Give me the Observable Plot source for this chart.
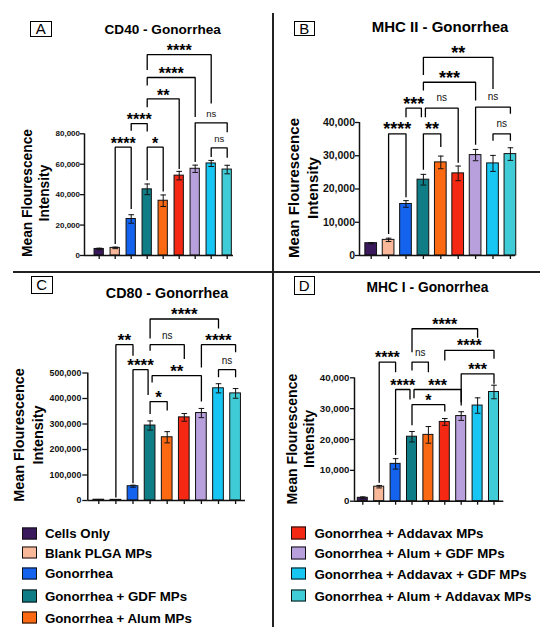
<!DOCTYPE html>
<html><head><meta charset="utf-8">
<script src="https://cdn.jsdelivr.net/npm/d3@7"></script>
<script src="https://cdn.jsdelivr.net/npm/@observablehq/plot@0.6"></script>
<style>
body{margin:0;background:#fff;}
#fig{position:relative;width:550px;height:635px;overflow:hidden;background:#fff;font-family:"Liberation Sans",Arial,sans-serif;color:#000;}
#fig svg{position:absolute;}
.title{position:absolute;font-weight:bold;white-space:nowrap;transform:translate(-50%,-50%);line-height:1;}
.letter{position:absolute;border:1.7px solid #000;box-sizing:border-box;display:flex;align-items:center;justify-content:center;line-height:1;}
.ylab{position:absolute;font-weight:bold;white-space:nowrap;text-align:center;transform:translate(-50%,-50%) rotate(-90deg);}
.leg{position:absolute;display:flex;align-items:center;font-weight:bold;font-size:13.3px;white-space:nowrap;transform:translateY(-50%);}
.sw{width:15px;height:12.5px;border:1.5px solid #111;box-sizing:border-box;flex:none;}
.line{position:absolute;background:#222;}
</style></head><body><div id="fig"></div>
<script>
// ---------- data ----------
const groups = ["Cells Only","Blank PLGA MPs","Gonorrhea","Gonorrhea + GDF MPs","Gonorrhea + Alum MPs",
  "Gonorrhea + Addavax MPs","Gonorrhea + Alum + GDF MPs","Gonorrhea + Addavax + GDF MPs","Gonorrhea + Alum + Addavax MPs"];
const groupColors = ["#3a1a5c","#f9b899","#1463ee","#0e7d86","#fb6a12","#f42813","#b7a0dc","#17c6f2","#40ccd6"];

const panelLetters = ["A","B","C","D"];
const panelTitles = ["CD40 - Gonorrhea","MHC II - Gonorrhea","CD80 - Gonorrhea","MHC I - Gonorrhea"];
const yLabelLines = ["Mean Flourescence","Intensity"];

// CD40
const cd40Mean = [4300, 5000, 24000, 43500, 36000, 52500, 57000, 60500, 56500];
const cd40Sd   = [500, 500, 2800, 3500, 3800, 2800, 2400, 2000, 2800];
const cd40Ticks = [0, 20000, 40000, 60000, 80000];
// [left bar, right bar, level, left leg end, right leg end, label]
const cd40Brackets = [
  [3,7,132000,122000,100000,"****"],
  [3,6,117000,111700,91000,"****"],
  [3,5,103000,97400,56800,"**"],
  [2,3,86700,82000,81500,"****"],
  [1,2,71200,7500,30500,"****"],
  [3,4,71200,49500,42000,"*"],
  [6,8,87200,61500,81000,"ns"],
  [7,8,70800,64800,64200,"ns"]
];
// MHC II
const mhc2Mean = [3700, 4700, 15500, 22800, 28000, 24700, 30200, 27700, 30500];
const mhc2Sd   = [200, 500, 1000, 1600, 1900, 2200, 1700, 2400, 1900];
const mhc2Ticks = [0, 10000, 20000, 30000, 40000];
const mhc2Brackets = [
  [3,7,59600,54300,50100,"**"],
  [3,6,52100,49600,46600,"***"],
  [2,3,44300,41600,41600,"***"],
  [3,5,44300,41600,27900,"ns"],
  [1,2,36600,6500,17500,"****"],
  [3,4,36600,25800,32600,"**"],
  [6,8,44600,33300,42600,"ns"],
  [7,8,36600,34500,34500,"ns"]
];
// CD80
const cd80Mean = [3000, 2500, 56000, 294000, 248000, 326000, 343000, 440000, 420000];
const cd80Sd   = [1000, 800, 4000, 18000, 22000, 15000, 18000, 18000, 19000];
const cd80Ticks = [0, 100000, 200000, 300000, 400000, 500000];
const cd80Brackets = [
  [3,7,711700,635700,675000,"****"],
  [3,5,611000,587500,555000,"ns"],
  [1,2,611000,12000,568000,"**"],
  [6,8,611000,522000,581000,"****"],
  [2,3,513000,68000,414000,"****"],
  [3,6,489600,463000,387800,"**"],
  [7,8,513000,483000,483000,"ns"],
  [3,4,387800,339600,352500,"*"]
];
// MHC I
const mhc1Mean = [1100, 4700, 12100, 20900, 21500, 25700, 27600, 31000, 35400];
const mhc1Sd   = [300, 400, 1700, 1700, 2700, 1100, 1400, 2500, 2200];
const mhc1Ticks = [0, 10000, 20000, 30000, 40000];
const mhc1Brackets = [
  [3,7,55900,48300,53000,"****"],
  [5,8,48900,45600,46200,"****"],
  [1,2,45100,6000,41800,"****"],
  [3,4,45100,42400,41800,"ns"],
  [6,8,41300,32100,38100,"***"],
  [2,3,36200,15000,33000,"****"],
  [3,6,36200,33400,31000,"***"],
  [3,5,31300,24600,29100,"*"]
];

// ---------- drawing ----------
const fig = document.getElementById("fig");
const fmt = d3.format(",");

function panel(cfg) {
  const {mean, sd, brackets, ticks, box, lo, hi, ml, mr, mt, mb, hw, tickFont, tickSize, tickPad, starFont, nsFont, starDy, nsDy} = cfg;
  const rows = groups.map((g, i) => ({i, group: g, mean: mean[i], sd: sd[i]}));
  const pxPerUnit = (box.w - ml - mr) / (hi - lo);
  const nud = 2 / pxPerUnit;
  const cw = 2.8 / pxPerUnit;
  const br = brackets.map(([a, b, y, ya, yb, label], k) => ({k, a, b, y, ya, yb, label, na: 0, nb: 0}));
  for (const p of br) for (const q of br) {
    if (p !== q && p.b === q.a && q.y <= p.y * 1.001 && q.y >= p.yb) { p.nb = -nud; q.na = nud; }
  }
  const pts = br.flatMap(d => [
    {k: d.k, x: d.a + d.na, y: d.ya},
    {k: d.k, x: d.a + d.na, y: d.y},
    {k: d.k, x: d.b + d.nb, y: d.y},
    {k: d.k, x: d.b + d.nb, y: d.yb}
  ]);
  const mid = d => (d.a + d.na + d.b + d.nb) / 2;
  const svg = Plot.plot({
    width: box.w, height: box.h,
    marginLeft: ml, marginRight: mr, marginTop: mt, marginBottom: mb,
    x: {domain: [lo, hi], label: null},
    y: {domain: [0, ticks[ticks.length - 1]], label: null},
    color: {domain: groups, range: groupColors},
    style: {background: "transparent", overflow: "visible", fontFamily: "Liberation Sans, Arial, sans-serif", color: "#111"},
    marks: [
      Plot.rect(rows, {x1: d => d.i - hw, x2: d => d.i + hw, y1: 0, y2: "mean", fill: "group", stroke: "#111", strokeWidth: 1}),
      Plot.ruleX(rows, {x: "i", y1: d => d.mean - d.sd, y2: d => d.mean + d.sd, stroke: "#111", strokeWidth: 1}),
      Plot.link(rows, {x1: d => d.i - cw, x2: d => d.i + cw, y1: d => d.mean + d.sd, y2: d => d.mean + d.sd, stroke: "#111", strokeWidth: 1}),
      Plot.link(rows, {x1: d => d.i - cw, x2: d => d.i + cw, y1: d => d.mean - d.sd, y2: d => d.mean - d.sd, stroke: "#111", strokeWidth: 1}),
      Plot.line(pts, {x: "x", y: "y", z: "k", stroke: "#000", strokeWidth: 1.3, strokeLinejoin: "miter", strokeLinecap: "butt"}),
      Plot.text(br.filter(d => d.label !== "ns"), {x: mid, y: "y", text: "label", fontSize: starFont, fontWeight: "bold", lineAnchor: "bottom", dy: starDy, fill: "#000"}),
      Plot.text(br.filter(d => d.label === "ns"), {x: mid, y: "y", text: "label", fontSize: nsFont, lineAnchor: "bottom", dy: nsDy, fill: "#111"}),
      Plot.ruleY([0], {stroke: "#111", strokeWidth: 1.5}),
      Plot.ruleX([lo], {stroke: "#111", strokeWidth: 1.5}),
      Plot.axisY({ticks, tickFormat: fmt, tickSize, tickPadding: tickPad, fontSize: tickFont, fontWeight: "bold", label: null, strokeWidth: 1.3}),
      Plot.axisX({ticks: rows.map(d => d.i), tickFormat: () => "", tickSize: 4, label: null, strokeWidth: 1.3})
    ]
  });
  svg.style.left = box.left + "px";
  svg.style.top = box.top + "px";
  fig.appendChild(svg);
}

panel({mean: cd40Mean, sd: cd40Sd, brackets: cd40Brackets, ticks: cd40Ticks,
  box: {left: 0, top: 0, w: 273, h: 268}, ml: 84, mr: 40, mt: 133.3, mb: 13, lo: -0.919, hi: 8.394, hw: 0.29,
  tickFont: 8, tickSize: 4, tickPad: 0.5, starFont: 16, nsFont: 9.5, starDy: 1.8, nsDy: -5.5});
panel({mean: mhc2Mean, sd: mhc2Sd, brackets: mhc2Brackets, ticks: mhc2Ticks,
  box: {left: 273, top: 0, w: 277, h: 268}, ml: 86, mr: 35, mt: 122, mb: 13, lo: -0.672, hi: 8.293, hw: 0.336,
  tickFont: 10.5, tickSize: 4, tickPad: 0.5, starFont: 18, nsFont: 10, starDy: 1.5, nsDy: -7});
panel({mean: cd80Mean, sd: cd80Sd, brackets: cd80Brackets, ticks: cd80Ticks,
  box: {left: 0, top: 272, w: 273, h: 245}, ml: 87.3, mr: 28, mt: 100.5, mb: 17, lo: -0.643, hi: 8.579, hw: 0.313,
  tickFont: 8.8, tickSize: 5, tickPad: 1.5, starFont: 17, nsFont: 10, starDy: 1, nsDy: -6});
panel({mean: mhc1Mean, sd: mhc1Sd, brackets: mhc1Brackets, ticks: mhc1Ticks,
  box: {left: 273, top: 272, w: 277, h: 245}, ml: 81, mr: 46.7, mt: 105.3, mb: 16.3, lo: -0.506, hi: 8.598, hw: 0.305,
  tickFont: 9.7, tickSize: 4, tickPad: 1, starFont: 16, nsFont: 10, starDy: 1, nsDy: -6.5});

// ---------- panel text ----------
const titleLayout = [{x: 162.7, y: 30, s: 13.6}, {x: 440, y: 26, s: 15}, {x: 167, y: 292.7, s: 14.3}, {x: 427.5, y: 287.7, s: 13.8}];
const letterLayout = [{l: 30, t: 21, w: 21.5, h: 15.5}, {l: 293.5, t: 21, w: 21.5, h: 14.5}, {l: 31, t: 275.5, w: 21.5, h: 18.5}, {l: 293.5, t: 276, w: 21.5, h: 19}];
const ylabLayout = [{x: 36.3, y: 192.5, s: 13.8, lh: 17.3}, {x: 302.5, y: 188, s: 15.1, lh: 19}, {x: 29.3, y: 435, s: 14.4, lh: 18.7}, {x: 300.8, y: 438.5, s: 14.1, lh: 17}];

panelTitles.forEach((t, i) => {
  const d = document.createElement("div");
  d.className = "title"; d.textContent = t;
  Object.assign(d.style, {left: titleLayout[i].x + "px", top: titleLayout[i].y + "px", fontSize: titleLayout[i].s + "px"});
  fig.appendChild(d);
  const L = document.createElement("div");
  L.className = "letter"; L.textContent = panelLetters[i];
  const ll = letterLayout[i];
  Object.assign(L.style, {left: ll.l + "px", top: ll.t + "px", width: ll.w + "px", height: ll.h + "px", fontSize: "15px"});
  fig.appendChild(L);
  const Y = document.createElement("div");
  Y.className = "ylab"; Y.innerHTML = yLabelLines.join("<br>");
  const yl = ylabLayout[i];
  Object.assign(Y.style, {left: yl.x + "px", top: yl.y + "px", fontSize: yl.s + "px", lineHeight: yl.lh + "px"});
  fig.appendChild(Y);
});

// ---------- legend ----------
const legRowsLeft = [533.3, 552.7, 573.3, 596, 617.7];
const legRowsRight = [533, 553, 573.5, 595.5];
groups.forEach((g, i) => {
  const left = i < 5;
  const y = left ? legRowsLeft[i] : legRowsRight[i - 5];
  const d = document.createElement("div");
  d.className = "leg";
  Object.assign(d.style, {left: (left ? 21.7 : 291) + "px", top: y + "px"});
  const sw = document.createElement("div");
  sw.className = "sw"; sw.style.background = groupColors[i];
  sw.style.marginRight = (left ? 8.2 : 8.4) + "px";
  const tx = document.createElement("span"); tx.textContent = g;
  d.appendChild(sw); d.appendChild(tx);
  fig.appendChild(d);
});

// ---------- dividers ----------
const vl = document.createElement("div"); vl.className = "line";
Object.assign(vl.style, {left: "272px", top: "13px", width: "1.6px", height: "614px"});
fig.appendChild(vl);
const hl = document.createElement("div"); hl.className = "line";
Object.assign(hl.style, {left: "13px", top: "271px", width: "527px", height: "1.6px"});
fig.appendChild(hl);
</script></body></html>
